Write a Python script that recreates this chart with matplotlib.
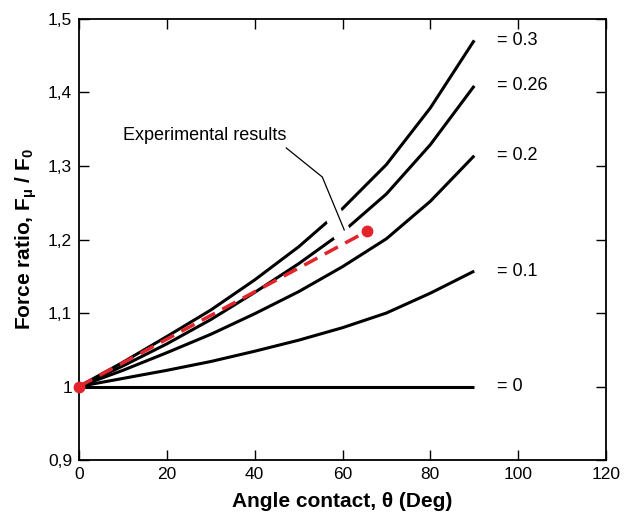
import numpy as np
import matplotlib
matplotlib.use("Agg")
import matplotlib.pyplot as plt

plt.rcParams['font.family'] = ['Liberation Sans', 'DejaVu Sans']
plt.rcParams['mathtext.fontset'] = 'custom'
plt.rcParams['mathtext.rm'] = 'Liberation Sans'
plt.rcParams['mathtext.bf'] = 'Liberation Sans:bold'
plt.rcParams['mathtext.it'] = 'Liberation Sans:italic'

# contact angle, deg
theta = [0, 10, 20, 30, 40, 50, 60, 70, 80, 90]

# force ratio for each friction coefficient
mu_labels = ['= 0.3', '= 0.26', '= 0.2', '= 0.1', '= 0']
ratio_030 = [1.0, 1.033, 1.068, 1.104, 1.145, 1.190, 1.242, 1.302, 1.379, 1.471]
ratio_026 = [1.0, 1.028, 1.058, 1.091, 1.128, 1.167, 1.210, 1.262, 1.329, 1.409]
ratio_020 = [1.0, 1.022, 1.046, 1.071, 1.099, 1.129, 1.163, 1.201, 1.252, 1.314]
ratio_010 = [1.0, 1.011, 1.022, 1.034, 1.048, 1.063, 1.080, 1.100, 1.127, 1.157]
ratio_000 = [1.0, 1.0, 1.0, 1.0, 1.0, 1.0, 1.0, 1.0, 1.0, 1.0]

# measured points
exp_theta = [0, 65.5]
exp_ratio = [1.0, 1.211]

x_ticks = [0, 20, 40, 60, 80, 100, 120]
y_ticks = [0.9, 1.0, 1.1, 1.2, 1.3, 1.4, 1.5]
y_ticklabels = ['0,9', '1', '1,1', '1,2', '1,3', '1,4', '1,5']

fig = plt.figure(figsize=(6.39, 5.16), dpi=100)
ax = fig.add_axes([0.1236, 0.1085, 0.8248, 0.8547])

curves = [ratio_030, ratio_026, ratio_020, ratio_010, ratio_000]
for vals, lab in zip(curves, mu_labels):
    ax.plot(theta, vals, color='black', lw=2.2, zorder=2, solid_capstyle='butt')
    ax.text(95.2, vals[-1], lab, fontsize=13, va='center', ha='left')

# leader line for the experimental curve, with a white gap underneath
lead_x = [47.2, 55.4, 60.4]
lead_y = [1.3245, 1.285, 1.213]
ax.plot([54.2, 60.1], [1.285, 1.2048], color='white', lw=13,
        solid_capstyle='butt', zorder=3)
ax.plot(lead_x, lead_y, color='black', lw=0.9, zorder=4)
ax.text(10.0, 1.342, 'Experimental results', fontsize=13, va='center', ha='left')

red = '#e3242b'
ax.plot(exp_theta, exp_ratio, color=red, lw=2.5, dashes=(4.3, 2.4), zorder=5)
ax.plot(exp_theta, exp_ratio, 'o', color=red, ms=7.5, zorder=6, clip_on=False)

ax.set_xlim(0, 120)
ax.set_ylim(0.9, 1.5)
ax.set_xticks(x_ticks)
ax.set_yticks(y_ticks)
ax.set_yticklabels(y_ticklabels)
ax.tick_params(direction='in', length=7, width=1.0, top=True, right=True,
               labelsize=12.5, pad=5)
for sp in ax.spines.values():
    sp.set_linewidth(1.3)

ax.set_xlabel('Angle contact, θ (Deg)', fontsize=15,
              fontweight='bold', labelpad=7)
ax.set_ylabel(r'Force ratio, $\mathbf{F_{\mu}}$ / $\mathbf{F_0}$', fontsize=15,
              fontweight='bold', labelpad=6)

fig.savefig('out.png', dpi=100)
